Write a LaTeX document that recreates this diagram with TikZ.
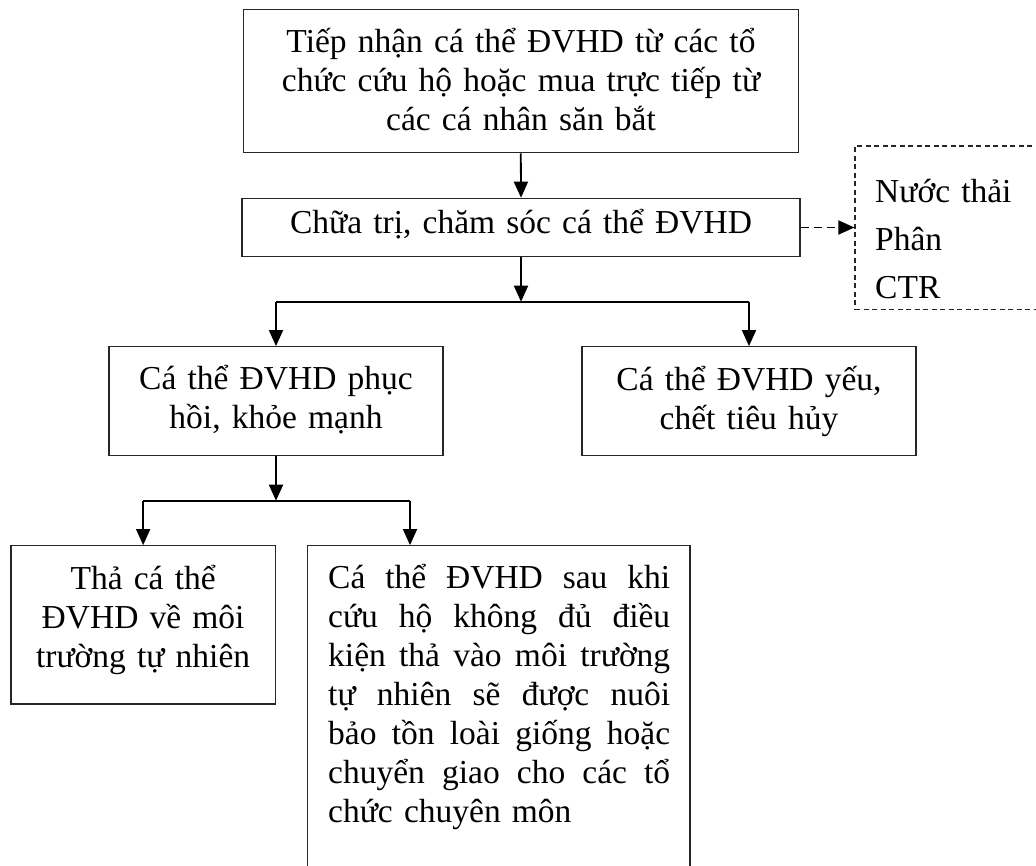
\documentclass[tikz,border=0pt]{standalone}
\usepackage{fontspec}
\setmainfont{Liberation Serif}
\usetikzlibrary{arrows.meta}
% one justified line of the given width: words spread by equal gaps
\newcommand{\jline}[1]{\leavevmode\hbox to 342pt{#1}}
\begin{document}
\begin{tikzpicture}[x=1pt,y=-1pt,
  box/.style={draw=black!85, line width=1.2pt, rectangle, inner sep=0pt},
  wastebox/.style={draw=black!85, line width=1.2pt, dash pattern=on 5pt off 3.5pt, rectangle, inner sep=0pt},
  txt/.style={font=\fontsize{33.5}{39}\selectfont, inner sep=0pt, anchor=base},
  ctxt/.style={txt, align=center},
  arr/.style={line width=1.8pt, -{Triangle[length=16pt,width=14pt]}},
  link/.style={line width=1.8pt},
  dasharr/.style={line width=1.9pt, dash pattern=on 8pt off 5pt, -{Triangle[length=16pt,width=14pt]}}]

\useasboundingbox (0,0) rectangle (1036,865);
\clip (0,0) rectangle (1036,865);

% boxes
\node[box, minimum width=555pt, minimum height=143.4pt] (top) at (520.8,81) {};
\node[box, minimum width=558pt, minimum height=58.4pt] (treat) at (521,227.5) {};
\node[wastebox, minimum width=245pt, minimum height=163.3pt] (waste) at (977.5,227.65) {};
\node[box, minimum width=334pt, minimum height=109pt] (midL) at (276,401.2) {};
\node[box, minimum width=334pt, minimum height=109pt] (midR) at (749,401.2) {};
\node[box, minimum width=264.3pt, minimum height=158.3pt] (botL) at (143.15,624.85) {};
\node[box, minimum width=382.7pt, minimum height=354.3pt] (botR) at (498.65,722.85) {};

% texts
\node[ctxt, text width=540pt] (ttop) at (521,52.7)
  {Tiếp nhận cá thể ĐVHD từ các tổ\\chức cứu hộ hoặc mua trực tiếp từ\\các cá nhân săn bắt};
\node[ctxt, text width=540pt] (ttreat) at (521,233.3) {Chữa trị, chăm sóc cá thể ĐVHD};
\node[txt, text width=150pt, align=left, font=\fontsize{33.5}{47.8}\selectfont, anchor=base west] (twaste) at (875,202.7)
  {Nước thải\\Phân\\CTR};
\node[ctxt, text width=320pt] (tmidL) at (276,389.3) {Cá thể ĐVHD phục\\hồi, khỏe mạnh};
\node[ctxt, text width=320pt] (tmidR) at (749,390) {Cá thể ĐVHD yếu,\\chết tiêu hủy};
\node[ctxt, text width=250pt] (tbotL) at (143.15,589.3) {Thả cá thể\\ĐVHD về môi\\trường tự nhiên};
\node[txt, text width=342pt, align=left, anchor=base west] (tbotR) at (328,588.3)
  {\jline{Cá \hfill thể \hfill ĐVHD \hfill sau \hfill khi}\\
   \jline{cứu \hfill hộ \hfill không \hfill đủ \hfill điều}\\
   \jline{kiện \hfill thả \hfill vào \hfill môi \hfill trường}\\
   \jline{tự \hfill nhiên \hfill sẽ \hfill được \hfill nuôi}\\
   \jline{bảo \hfill tồn \hfill loài \hfill giống \hfill hoặc}\\
   \jline{chuyển \hfill giao \hfill cho \hfill các \hfill tổ}\\
   chức chuyên môn};

% branch points
\coordinate (split1) at (521,301.7);
\coordinate (split2) at (276,500.7);
\coordinate (split2R) at (410,500.7);
\coordinate (split2L) at (143.15,500.7);

% connectors
\draw[arr] (top.south) -- (treat.north);
\draw[dasharr] (treat.east) -- (treat.east -| waste.west);
\draw[arr] (treat.south) -- (split1);
\draw[link] (split1 -| midL.north) -- (split1 -| midR.north);
\draw[arr] (split1 -| midL.north) -- (midL.north);
\draw[arr] (split1 -| midR.north) -- (midR.north);
\draw[arr] (midL.south) -- (split2);
\draw[link] (split2L) -- (split2R);
\draw[arr] (split2L) -- (botL.north);
\draw[arr] (split2R) -- (split2R |- botR.north);
\end{tikzpicture}
\end{document}
